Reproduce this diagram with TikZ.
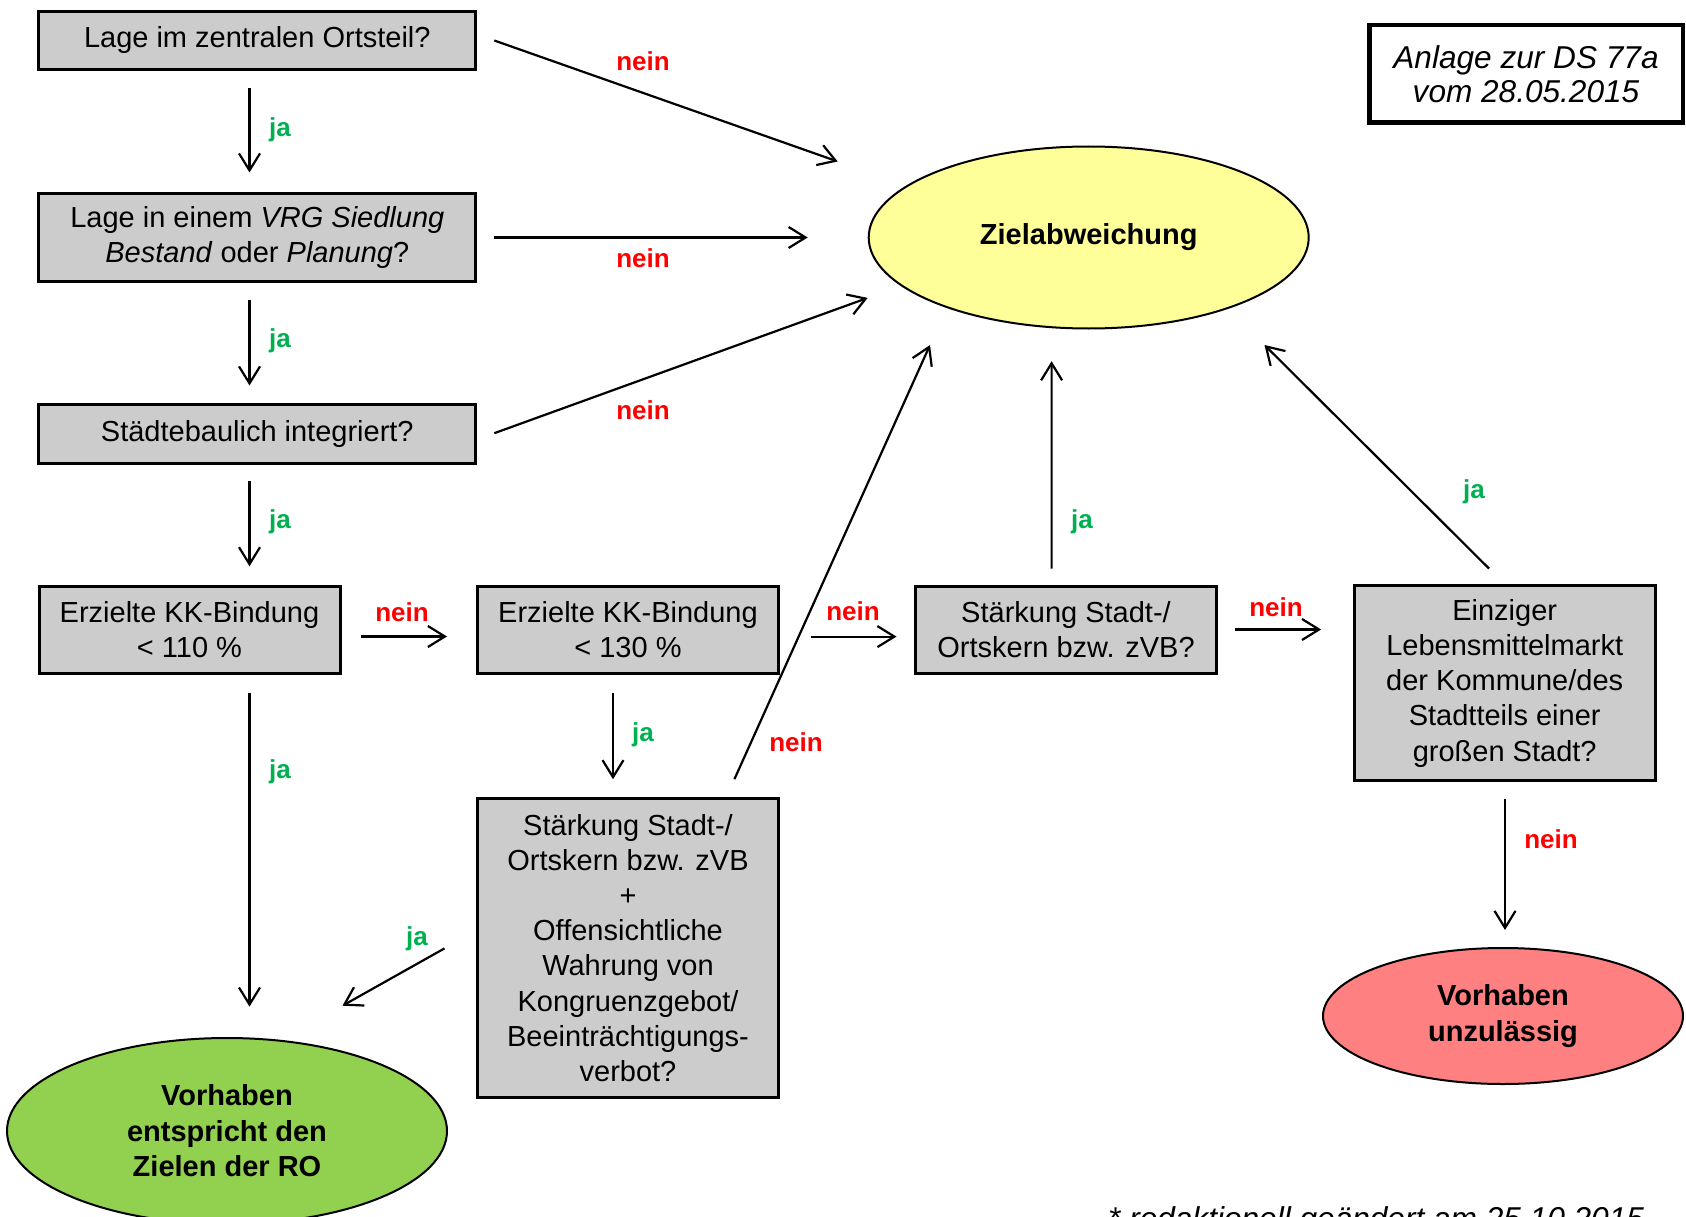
\documentclass[tikz,border=0pt]{standalone}
\usepackage{fontspec}
\setmainfont{Liberation Sans}
\usetikzlibrary{shapes.geometric,arrows.meta,calc}
\definecolor{boxgray}{HTML}{CCCCCC}
\definecolor{zielyellow}{HTML}{FFFF99}
\definecolor{okgreen}{HTML}{92D050}
\definecolor{badred}{HTML}{FF8080}
\definecolor{jagreen}{HTML}{00B050}
\definecolor{neinred}{HTML}{FF0000}
\tikzset{
  qbox/.style={draw=black, line width=3pt, fill=boxgray, inner sep=0pt, align=center,
    font=\fontsize{29}{35.2}\selectfont},
  goal/.style={ellipse, draw=black, line width=2pt, inner sep=0pt, align=center,
    font=\fontsize{29}{35.5}\selectfont\bfseries},
  conn/.style={draw=black, line width=2.2pt, -{Straight Barb[length=17pt,width=21pt]}},
  jalabel/.style={text=jagreen, font=\fontsize{26}{30}\selectfont\bfseries, inner sep=0pt},
  neinlabel/.style={text=neinred, font=\fontsize{26}{30}\selectfont\bfseries, inner sep=0pt}
}
\begin{document}
\begin{tikzpicture}[x=1pt,y=-1pt]
\useasboundingbox (0,0) rectangle (1686,1217);
\clip (0,0) rectangle (1686,1217);

% question boxes
\node[qbox, minimum width=437, minimum height=58] (b1) at (257.3,40.5) {Lage im zentralen Ortsteil?};
\node[qbox, minimum width=437, minimum height=88.5] (b2) at (257.3,237.5)
  {Lage in einem \textit{VRG Siedlung}\\\textit{Bestand} oder \textit{Planung}?};
\node[qbox, minimum width=437, minimum height=58.7] (b3) at (257.3,434.2) {Städtebaulich integriert?};
\node[qbox, minimum width=301, minimum height=87] (b4) at (189.5,629.5) {Erzielte KK-Bindung\\< 110 \%};
\node[qbox, minimum width=301, minimum height=87] (b5) at (628,629.5) {Erzielte KK-Bindung\\< 130 \%};
\node[qbox, minimum width=301, minimum height=299] (b6) at (628,948)
  {Stärkung Stadt-/\\Ortskern bzw. zVB\\+\\Offensichtliche\\Wahrung von\\Kongruenzgebot/\\Beeinträchtigungs-\\verbot?};
\node[qbox, minimum width=301, minimum height=87] (b7) at (1066,629.5) {Stärkung Stadt-/\\Ortskern bzw. zVB?};
\node[qbox, minimum width=301, minimum height=195.3] (b8) at (1504.7,683.2)
  {Einziger\\Lebensmittelmarkt\\der Kommune/des\\Stadtteils einer\\großen Stadt?};

% result ellipses
\node[goal, fill=zielyellow, minimum width=440, minimum height=182] (Z) at (1088.7,237.5) {Zielabweichung};
\node[goal, fill=okgreen, minimum width=440, minimum height=186] (V) at (227,1131) {Vorhaben\\entspricht den\\Zielen der RO};
\node[goal, fill=badred, minimum width=360, minimum height=136] (U) at (1503,1016) {Vorhaben\\unzulässig};

% annotation box
\node[draw=black, line width=4.5pt, minimum width=313.5, minimum height=97.5, inner sep=0pt, align=center,
  font=\fontsize{31.6}{34.5}\selectfont\itshape] (anl) at (1526,74) {Anlage zur DS 77a\\vom 28.05.2015};
\node[anchor=base west, inner sep=0pt, font=\fontsize{31.6}{34}\selectfont\itshape] (foot) at (1108,1229)
  {* redaktionell geändert am 25.10.2015};

% connectors
\draw[conn] ($(b1.east)+(17,0)$) -- ($(Z.west)+(-30,-76)$);
\draw[conn] ($(b2.east)+(17,0)$) -- ($(Z.west)+(-60,0)$);
\draw[conn] ($(b3.east)+(17,-1)$) -- ($(Z.west)+(0,60.4)$);
\draw[conn] ($(b1.south)+(-7.8,17.5)$) -- ($(b2.north)+(-7.8,-19.25)$);
\draw[conn] ($(b2.south)+(-7.8,16.25)$) -- ($(b3.north)+(-7.8,-17.85)$);
\draw[conn] ($(b3.south)+(-7.8,16)$) -- ($(b4.north)+(60,-18.2)$);
\draw[conn] ($(b4.east)+(19,7)$) -- ($(b5.west)+(-29,7)$);
\draw[conn] ($(b4.south)+(60,18.4)$) -- ($(V.north)+(22.5,-30.4)$);
\draw[conn] ($(b5.south)+(-15,18.4)$) -- ($(b6.north)+(-15,-17.8)$);
\draw[conn] ($(b6.west)+(-31.5,0.4)$) -- ($(V.north)+(115.5,-31.3)$);
\draw[conn] ($(b6.north)+(106.4,-17.8)$) -- ($(Z.south)+(-158.7,15.5)$);
\draw[conn] ($(b5.east)+(31.2,7.1)$) -- ($(b7.west)+(-17.5,7.1)$);
\draw[conn] ($(b7.north)+(-14.4,-16)$) -- ($(Z.south)+(-37.1,31.7)$);
\draw[conn] ($(b7.east)+(17,0)$) -- ($(b8.west)+(-31.6,-53.7)$);
\draw[conn] ($(b8.north)+(-15.7,-15.5)$) -- ($(Z.south)+(175.8,15.5)$);
\draw[conn] ($(b8.south)+(0.3,17)$) -- ($(U.north)+(2,-17)$);

% labels
\node[neinlabel] (n1) at (643,61) {nein};
\node[neinlabel] (n2) at (643,258) {nein};
\node[neinlabel] (n3) at (643,410) {nein};
\node[jalabel] (j1) at (280,130) {ja};
\node[jalabel] (j2) at (280,341) {ja};
\node[jalabel] (j3) at (280,522) {ja};
\node[neinlabel] (n4) at (402,612) {nein};
\node[jalabel] (j4) at (280,772) {ja};
\node[jalabel] (j5) at (643,735) {ja};
\node[jalabel] (j6) at (417,939) {ja};
\node[neinlabel] (n5) at (796,742) {nein};
\node[neinlabel] (n6) at (853,611) {nein};
\node[jalabel] (j7) at (1082,522) {ja};
\node[neinlabel] (n7) at (1276,607) {nein};
\node[jalabel] (j8) at (1474,492) {ja};
\node[neinlabel] (n8) at (1551,839) {nein};
\end{tikzpicture}
\end{document}
